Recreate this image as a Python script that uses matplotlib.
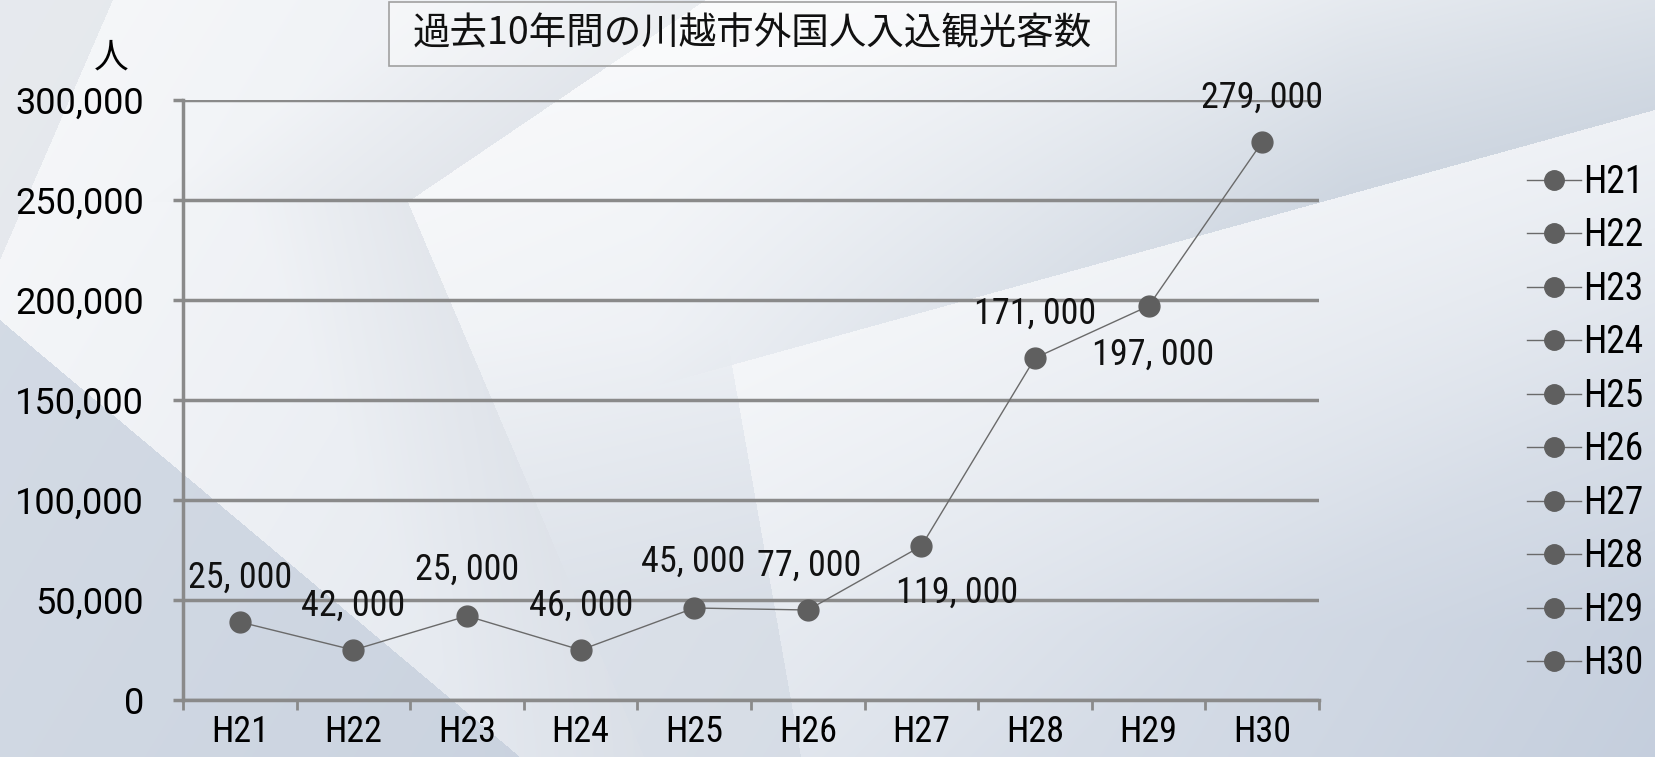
import matplotlib
matplotlib.use('Agg')
import matplotlib.pyplot as plt
import numpy as np
from matplotlib import font_manager
from matplotlib.lines import Line2D
from matplotlib.patches import Rectangle

plt.rcParams['font.family'] = ['Noto Sans CJK JP', 'DejaVu Sans']

# pick a narrow font for the numbers if one is installed
installed = sorted({f.name for f in font_manager.fontManager.ttflist})
cands = ['Roboto Condensed', 'Liberation Sans Narrow', 'DejaVu Sans Condensed',
         'Noto Sans Condensed', 'Open Sans Condensed']
cands += [n for n in installed if ('Condensed' in n or 'Narrow' in n) and 'Mono' not in n
          and 'Serif' not in n and n not in cands]
found = [n for n in cands if n in installed]
if found:
    narrow = [found[0], 'Noto Sans CJK JP']
    nsize = 27
else:
    narrow = ['Noto Sans CJK JP']
    nsize = 22
wide = ['Roboto', 'Noto Sans CJK JP']

# data
years = ['H21', 'H22', 'H23', 'H24', 'H25', 'H26', 'H27', 'H28', 'H29', 'H30']
visitors = [39000, 25000, 42000, 25000, 46000, 45000, 77000, 171000, 197000, 279000]
label_text = ['25, 000', '42, 000', '25, 000', '46, 000', '45, 000',
              '77, 000', '119, 000', '171, 000', '197, 000', '279, 000']
label_offset = [(0, 32), (0, 32), (0, 33), (0, 32), (-1, 33),
                (1, 32), (26, -34), (0, 32), (3, -35), (0, 32)]
yticks = [0, 50000, 100000, 150000, 200000, 250000, 300000]

W, H = 1655, 757
fig = plt.figure(figsize=(W / 100, H / 100), dpi=100)

# background: gradient with some faceted shapes
yy, xx = np.mgrid[0:H, 0:W] + 0.5
t = np.clip(0.78 * xx / W + 0.22 * yy / H, 0, 1) ** 1.3
c0 = np.array([0.965, 0.970, 0.978])
c1 = np.array([0.76, 0.80, 0.86])
img = c0 + (c1 - c0) * t[..., None]


def dist(p1, p2):
    dx, dy = p2[0] - p1[0], p2[1] - p1[1]
    n = np.hypot(dx, dy)
    return ((xx - p1[0]) * dy - (yy - p1[1]) * dx) / n


def blend(mask, color, k):
    k = np.where(mask, k, 0.0)[..., None]
    return img * (1 - k) + np.array(color) * k


d1 = dist((113, 0), (0, 260))
e2 = dist((0, 320), (520, 757))
e3 = dist((408, 202), (706, 0))
e4 = dist((408, 202), (644, 757))
e5 = dist((732, 365), (801, 757))
e6 = dist((732, 365), (1655, 110))

# top-left grey triangle
img = blend(d1 < 0, (0.83, 0.85, 0.88), 0.45)
# white facet and the grey band along its left edges
wf = (e3 < 0) & (e4 > 0)
dd = np.where(yy < 202, e3, -e4)
band = ~wf & (dd > 0) & (dd < 150) & (d1 > 0)
img = blend(band, (0.82, 0.84, 0.87), 0.35 * (1 - dd / 150))
img = blend(wf, (1, 1, 1), np.clip(0.7 - yy / 900, 0, 0.7))
# bottom-left dark triangle
img = blend(e2 < 0, (0.70, 0.75, 0.82), 0.5)
# grey between the two facets
gb = (e4 > 0) & (e5 < 0) & (yy > 330)
img = blend(gb, (0.80, 0.83, 0.87), np.clip((yy - 330) / 800, 0, 0.35))
# right facet
bf = (e5 > 0) & (e6 < 0)
img = blend(bf, (1, 1, 1), np.clip(0.5 - (xx - 700) / 2400 - (yy - 300) / 1500, 0.05, 0.5))
# darker strip above the right facet
up = (e6 > 0) & (e3 < 0)
img = blend(up, (0.70, 0.75, 0.81),
            np.clip(0.5 * (1 - e6 / 320) * np.clip((xx - 650) / 700, 0, 1), 0, 0.5))

bg = fig.add_axes([0, 0, 1, 1])
bg.imshow(np.clip(img, 0, 1), extent=(0, W, H, 0), aspect='auto', interpolation='bilinear')
bg.set_xlim(0, W)
bg.set_ylim(H, 0)
bg.axis('off')

# chart
ax = fig.add_axes([0.1106, 0.0753, 0.6864, 0.7926])
ax.patch.set_alpha(0)
grey = '#8a8a8a'
x = np.arange(len(years))
ax.plot(x, visitors, color='#6a6a6a', lw=1, marker='o', ms=15,
        mfc='#5f5f5f', mec='#5f5f5f', zorder=3, clip_on=False)
for xi, v, s, off in zip(x, visitors, label_text, label_offset):
    ax.annotate(s, (xi, v), xytext=off, textcoords='offset points',
                ha='center', va='center', fontsize=nsize - 1, family=narrow, color='#111111')

ax.set_xlim(-0.5, 9.5)
ax.set_ylim(0, 300000)
ax.set_yticks(yticks)
ax.set_yticklabels(['{:,}'.format(v) for v in yticks], fontsize=26, family=wide)
ax.yaxis.grid(True, color=grey, lw=2.5)
ax.set_axisbelow(True)
ax.set_xticks(x)
ax.set_xticklabels(years, fontsize=nsize - 1, family=narrow)
ax.set_xticks(np.arange(-0.5, 10, 1), minor=True)
ax.tick_params(axis='x', which='major', length=0, pad=10)
ax.tick_params(axis='x', which='minor', length=7, width=2, color=grey)
ax.tick_params(axis='y', length=7, width=2.5, color=grey, pad=21)
for s in ['top', 'right']:
    ax.spines[s].set_visible(False)
ax.spines['left'].set_color(grey)
ax.spines['left'].set_linewidth(2.5)
ax.spines['bottom'].set_color(grey)
ax.spines['bottom'].set_linewidth(2.5)

fig.text(111 / W, 1 - 58 / H, '人', fontsize=25, ha='center', va='center')

# title box
fig.patches.append(Rectangle((389 / W, 1 - 66 / H), 727 / W, 64 / H, transform=fig.transFigure,
                             facecolor='white', alpha=0.35, edgecolor='none'))
fig.patches.append(Rectangle((389 / W, 1 - 66 / H), 727 / W, 64 / H, transform=fig.transFigure,
                             facecolor='none', edgecolor='#a0a0a0', lw=1.2))
fig.text(752 / W, 1 - 34 / H, '過去10年間の川越市外国人入込観光客数', fontsize=27,
         ha='center', va='center', color='#111111')

handles = [Line2D([], [], color='#6a6a6a', lw=1, marker='o', ms=14,
                  mfc='#5f5f5f', mec='#5f5f5f') for _ in years]
leg = fig.legend(handles, years, loc='center left', bbox_to_anchor=(1527 / W, 1 - 423 / H),
                 bbox_transform=fig.transFigure, frameon=False, borderpad=0, borderaxespad=0,
                 handlelength=1.45, handletextpad=0.05, labelspacing=0.44,
                 prop={'family': narrow, 'size': nsize})

fig.savefig('out.png', dpi=100)
